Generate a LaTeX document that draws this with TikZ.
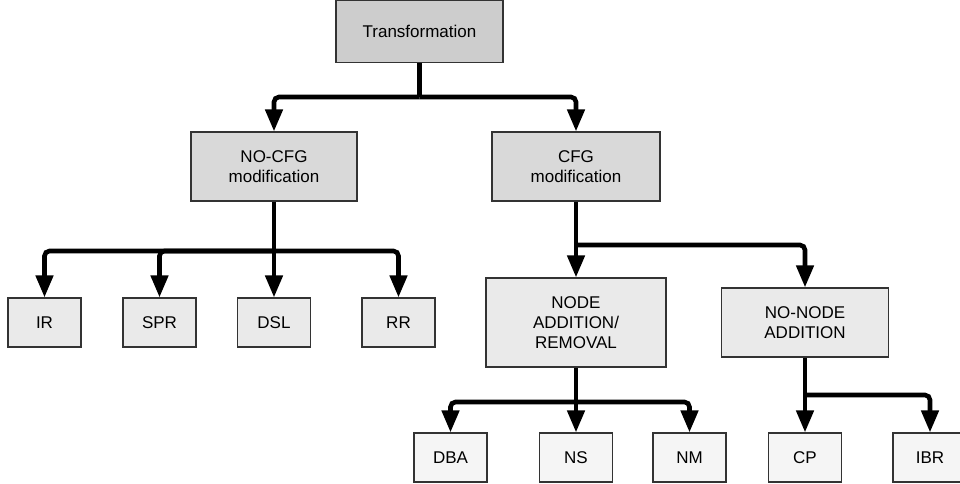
\documentclass[tikz,border=0pt]{standalone}
\usepackage{fontspec}
\setmainfont{Liberation Sans}
\usetikzlibrary{arrows.meta}
\definecolor{fillA}{HTML}{CDCDCD}
\definecolor{fillB}{HTML}{D9D9D9}
\definecolor{fillC}{HTML}{EAEAEA}
\definecolor{fillD}{HTML}{F5F5F5}
\definecolor{edgeC}{HTML}{333333}
\begin{document}
\begin{tikzpicture}[x=1pt,y=-1pt,
  box/.style={draw=edgeC, line width=1.2pt, align=center, inner sep=0pt,
    font=\fontsize{17}{20}\selectfont, text=black},
  stem/.style={line width=4.6pt, rounded corners=5pt},
  arr/.style={line width=4.6pt, rounded corners=5pt, -{Triangle[width=17pt,length=22pt]}}
]
\useasboundingbox (0,0) rectangle (960,483);

\node[box, fill=fillA, minimum width=167pt, minimum height=62pt] (t) at (419.5,31.5) {Transformation};
\node[box, fill=fillB, minimum width=166pt, minimum height=69pt] (nocfg) at (274,166.5) {NO-CFG\\modification};
\node[box, fill=fillB, minimum width=168pt, minimum height=69pt] (cfg) at (576,166.5) {CFG\\modification};

\node[box, fill=fillC, minimum width=73pt, minimum height=49pt] (ir) at (44.5,322.5) {IR};
\node[box, fill=fillC, minimum width=73pt, minimum height=49pt] (spr) at (159.5,322.5) {SPR};
\node[box, fill=fillC, minimum width=73pt, minimum height=49pt] (dsl) at (274,322.5) {DSL};
\node[box, fill=fillC, minimum width=73pt, minimum height=49pt] (rr) at (398.5,322.5) {RR};

\node[box, fill=fillC, minimum width=180pt, minimum height=89pt] (nar) at (576,322.5) {NODE\\ADDITION/\\REMOVAL};
\node[box, fill=fillC, minimum width=167pt, minimum height=69pt] (nna) at (805,322.5) {NO-NODE\\ADDITION};

\node[box, fill=fillD, minimum width=73pt, minimum height=49pt] (dba) at (450.5,457.5) {DBA};
\node[box, fill=fillD, minimum width=73pt, minimum height=49pt] (ns) at (576,457.5) {NS};
\node[box, fill=fillD, minimum width=73pt, minimum height=49pt] (nm) at (689.5,457.5) {NM};
\node[box, fill=fillD, minimum width=73pt, minimum height=49pt] (cp) at (805,457.5) {CP};
\node[box, fill=fillD, minimum width=74pt, minimum height=49pt] (ibr) at (930,457.5) {IBR};

% junctions
\coordinate (j1) at (419.5,97);
\coordinate (j2) at (274,251);
\coordinate (j3) at (576,245);
\coordinate (j4) at (576,402);
\coordinate (j5) at (805,395);

\draw[stem] (t.south) -- (j1);
\draw[arr] (j1) -| (nocfg.north);
\draw[arr] (j1) -| (cfg.north);

\draw[stem] (nocfg.south) -- (j2);
\draw[arr] (j2) -| (ir.north);
\draw[arr] (j2) -| (spr.north);
\draw[arr] (j2) -- (dsl.north);
\draw[arr] (j2) -| (rr.north);

\draw[stem] (cfg.south) -- (j3);
\draw[arr] (j3) -- (nar.north);
\draw[arr] (j3) -| (nna.north);

\draw[stem] (nar.south) -- (j4);
\draw[arr] (j4) -| (dba.north);
\draw[arr] (j4) -- (ns.north);
\draw[arr] (j4) -| (nm.north);

\draw[stem] (nna.south) -- (j5);
\draw[arr] (j5) -- (cp.north);
\draw[arr] (j5) -| (ibr.north);
\end{tikzpicture}
\end{document}
